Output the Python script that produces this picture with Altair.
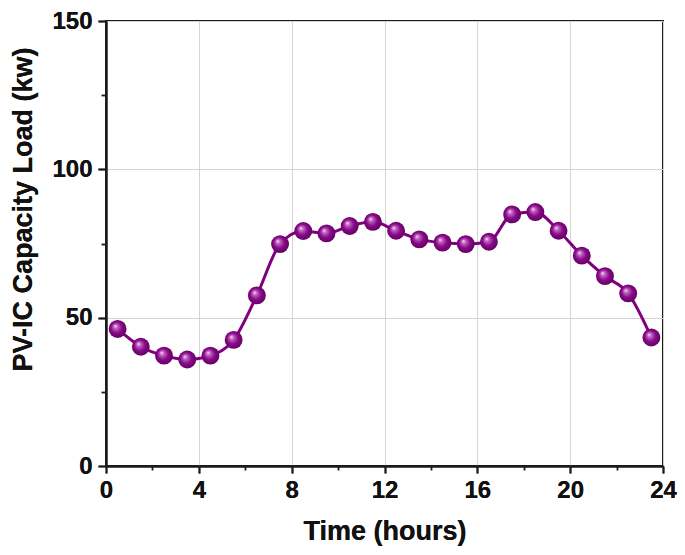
import altair as alt
import pandas as pd

hours = [0.5, 1.5, 2.5, 3.5, 4.5, 5.5, 6.5, 7.5, 8.5, 9.5, 10.5, 11.5,
         12.5, 13.5, 14.5, 15.5, 16.5, 17.5, 18.5, 19.5, 20.5, 21.5, 22.5, 23.5]
load_kw = [46.2, 40.2, 37.2, 35.9, 37.2, 42.5, 57.5, 74.8, 79.2, 78.4, 80.9, 82.3,
           79.3, 76.4, 75.3, 74.8, 75.6, 84.8, 85.6, 79.3, 70.9, 64.0, 58.2, 43.3]

x_major = [0, 4, 8, 12, 16, 20, 24]
x_minor = [2, 6, 10, 14, 18, 22]
y_major = [0, 50, 100, 150]
y_minor = [25, 75, 125]

df = pd.DataFrame({"hour": hours, "load": load_kw})

FONT = "Liberation Sans"
PURPLE = "#800080"
INK = "#1a1a1a"

x_scale = alt.Scale(domain=[0, 24], nice=False, zero=False)
y_scale = alt.Scale(domain=[0, 150], nice=False)

x_main = alt.X(
    "hour:Q", scale=x_scale,
    axis=alt.Axis(
        title="Time (hours)", values=x_major, ticks=True, tickSize=7, labelFlush=False,
        labelPadding=5, titlePadding=16, titleFontSize=27, orient="bottom",
    ),
)
y_main = alt.Y(
    "load:Q", scale=y_scale,
    axis=alt.Axis(
        title="PV-IC Capacity Load (kw)", values=y_major, ticks=True, tickSize=8, labelFlush=False,
        labelPadding=6, titleFontSize=27, titleX=-75, titleY=188,
        titleBaseline="alphabetic", orient="left",
    ),
)
x_min = alt.X(
    "hour:Q", scale=x_scale,
    axis=alt.Axis(
        title=None, values=x_minor, ticks=True, tickSize=4, labels=False, grid=False,
        domain=False, orient="bottom",
    ),
)
y_min = alt.Y(
    "load:Q", scale=y_scale,
    axis=alt.Axis(
        title=None, values=y_minor, ticks=True, tickSize=5, labels=False, grid=False,
        domain=False, orient="left",
    ),
)

sphere = alt.RadialGradient(
    gradient="radial",
    stops=[
        alt.GradientStop(offset=0.0, color="#f8eef8"),
        alt.GradientStop(offset=0.2, color="#c468c4"),
        alt.GradientStop(offset=0.55, color="#8a0a8a"),
        alt.GradientStop(offset=1.0, color="#5c005c"),
    ],
    x1=0.36, y1=0.33, r1=0.0,
    x2=0.5, y2=0.5, r2=0.55,
)

line = alt.Chart(df).mark_line(
    color=PURPLE, strokeWidth=3, interpolate="monotone"
).encode(x=x_main, y=y_main)
points = alt.Chart(df).mark_point(
    shape="circle", filled=True, size=320, fill=sphere, opacity=1, strokeWidth=0
).encode(x=x_main, y=y_main)
minor = alt.Chart(df).mark_point(opacity=0).encode(x=x_min, y=y_min)

chart = (
    alt.layer(line, points, minor)
    .resolve_axis(x="independent", y="independent")
    .properties(
        width=557,
        height=445,
        autosize=alt.AutoSizeParams(type="none"),
        padding={"left": 98, "top": 13, "right": 14, "bottom": 80},
    )
    .configure_view(stroke=INK, strokeWidth=2)
    .configure_axis(
        labelFont=FONT,
        labelFontSize=24,
        labelFontWeight="bold",
        labelColor="#111111",
        titleFont=FONT,
        titleFontSize=26,
        titleFontWeight="bold",
        titleColor="#111111",
        domainColor=INK,
        domainWidth=2,
        tickColor=INK,
        tickWidth=1.8,
        gridColor="#d4d4d4",
        gridWidth=1,
    )
)

chart.save("out.html", embed_options={"renderer": "svg", "actions": False})
